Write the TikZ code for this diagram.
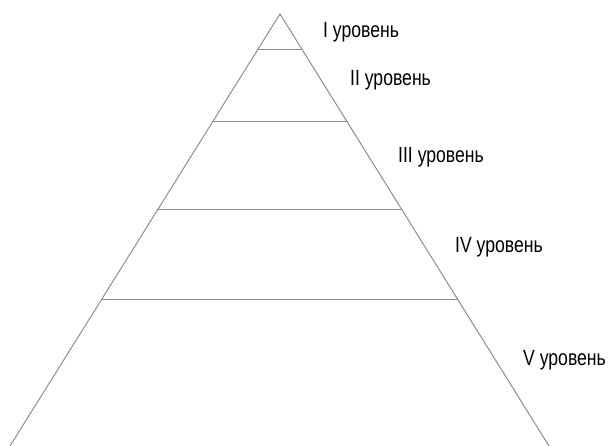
\documentclass[tikz,border=0pt]{standalone}
\usepackage{fontspec}
\usetikzlibrary{calc}
\newfontfamily\levelfont[FakeStretch=0.8]{Liberation Sans}
\definecolor{edgegray}{RGB}{140,140,140}
\tikzset{
  edge/.style={draw=edgegray, line width=1pt},
  levellabel/.style={anchor=base west, inner sep=0pt, font=\levelfont\fontsize{22}{26}\selectfont, text=black}
}
\begin{document}
\begin{tikzpicture}[x=1pt, y=-1pt]
  \useasboundingbox (0,0) rectangle (612,446);
  % pyramid outline
  \coordinate (apex) at (280,14);
  \coordinate (bl) at (10,446);
  \coordinate (br) at (549,446);
  \draw[edge] (bl) -- (apex) -- (br);
  % tier boundaries
  \foreach \t [count=\i] in {0.0833,0.2477,0.4514,0.662} {
    \coordinate (l\i) at ($(apex)!\t!(bl)$);
    \coordinate (r\i) at ($(apex)!\t!(br)$);
    \draw[edge] (l\i) -- (r\i);
  }
  % level labels
  \node[levellabel] (lev1) at (323,38) {I уровень};
  \node[levellabel] (lev2) at (350,86) {II уровень};
  \node[levellabel] (lev3) at (398,163) {III уровень};
  \node[levellabel] (lev4) at (455,252) {IV уровень};
  \node[levellabel] (lev5) at (523,365) {V уровень};
\end{tikzpicture}
\end{document}
